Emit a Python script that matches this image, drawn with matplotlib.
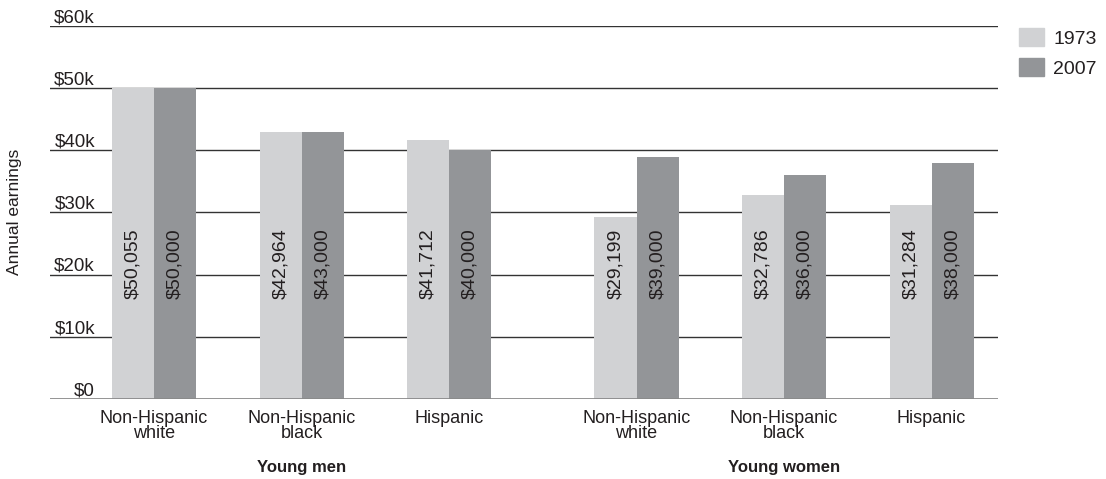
import matplotlib.pyplot as plt
from matplotlib.patches import Patch

categories = ['Non-Hispanic\nwhite', 'Non-Hispanic\nblack', 'Hispanic',
              'Non-Hispanic\nwhite', 'Non-Hispanic\nblack', 'Hispanic']
groups = ['Young men', 'Young women']
earn_1973 = [50055, 42964, 41712, 29199, 32786, 31284]
earn_2007 = [50000, 43000, 40000, 39000, 36000, 38000]
yticks = [0, 10000, 20000, 30000, 40000, 50000, 60000]
ytick_labels = ['$0', '$10k', '$20k', '$30k', '$40k', '$50k', '$60k']

c73 = '#d1d2d4'
c07 = '#939598'
ink = '#231f20'

plt.rcParams['font.family'] = ['Liberation Sans', 'DejaVu Sans']
plt.rcParams['text.color'] = ink

fig = plt.figure(figsize=(11.06, 4.79), dpi=100)
ax = fig.add_axes([50 / 1106, 1 - 399 / 479, 948 / 1106, 373 / 479])

xpos = [0, 1, 2, 3.27, 4.27, 5.27]
w = 0.285

for y in yticks[1:]:
    ax.axhline(y, color='#333333', lw=1, zorder=1)
ax.axhline(0, color='#8a8a8a', lw=2, zorder=3)

ax.bar([x - w / 2 for x in xpos], earn_1973, w, color=c73, zorder=2)
ax.bar([x + w / 2 for x in xpos], earn_2007, w, color=c07, zorder=2)

# value labels sit at a fixed height, not on top of the bars
for x, v in zip(xpos, earn_1973):
    ax.text(x - w / 2, 27400, f'${v:,}', rotation=90, ha='center', va='top', fontsize=14, zorder=4)
for x, v in zip(xpos, earn_2007):
    ax.text(x + w / 2, 27400, f'${v:,}', rotation=90, ha='center', va='top', fontsize=14, zorder=4)

ax.set_xlim(-0.705, 5.72)
ax.set_ylim(0, 60000)
ax.set_xticks([])
ax.set_yticks([])
for s in ax.spines.values():
    s.set_visible(False)

for y, lab in zip(yticks, ytick_labels):
    ax.text(-0.40, y + 600, lab, ha='right', va='baseline', fontsize=13.5)

for x, lab in zip(xpos, categories):
    ax.text(x, -1700, lab, ha='center', va='top', fontsize=13, linespacing=0.88)

ax.text(xpos[1], -9800, groups[0], ha='center', va='top', fontsize=12, fontweight='bold')
ax.text(xpos[4], -9800, groups[1], ha='center', va='top', fontsize=12, fontweight='bold')

fig.text(15 / 1106, 0.557, 'Annual earnings', rotation=90, ha='center', va='center', fontsize=12.5)

handles = [Patch(color=c73, label='1973'), Patch(color=c07, label='2007')]
ax.legend(handles=handles, loc='upper left', bbox_to_anchor=(1.022, 0.995), frameon=False,
          handlelength=1.3, handleheight=1.08, handletextpad=0.46, labelspacing=0.52, fontsize=14,
          borderaxespad=0, borderpad=0)

fig.savefig('out.png', dpi=100)
